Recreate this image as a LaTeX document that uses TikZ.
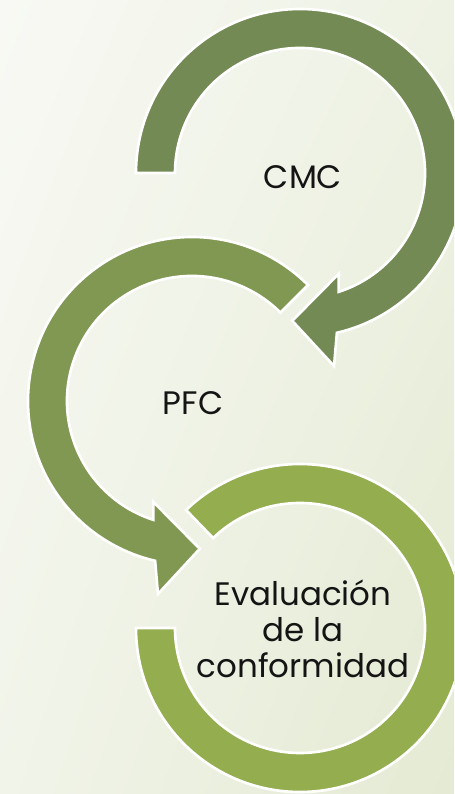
\documentclass[tikz,border=0pt]{standalone}
\usepackage{fontspec}
\setmainfont{Poppins}
\usepackage{tikz}
\usetikzlibrary{calc,positioning,shadings}
\usepackage{xcolor}
\definecolor{fondoA}{RGB}{248,249,244}
\definecolor{fondoB}{RGB}{238,242,228}
\definecolor{fondoC}{RGB}{241,244,233}
\definecolor{fondoD}{RGB}{228,234,211}
\definecolor{verdeUno}{RGB}{116,138,85}
\definecolor{verdeDos}{RGB}{129,152,83}
\definecolor{verdeTres}{RGB}{148,173,79}
\definecolor{texto}{RGB}{20,20,20}
\tikzset{
  flecha/.style={draw=white, line width=1.5pt, line join=miter},
  etiqueta/.style={font=\fontsize{18.5}{20.5}\selectfont, text=texto, align=center, inner sep=0pt}
}

\begin{document}
\begin{tikzpicture}[x=0.02cm, y=0.02cm]
\useasboundingbox (0,0) rectangle (454,794);
\clip (0,0) rectangle (454,794);
\shade[upper left=fondoA, upper right=fondoB, lower left=fondoC, lower right=fondoD]
  (0,0) rectangle (454,794);

\coordinate (c1) at (300,621);
\coordinate (c2) at (192,393);
\coordinate (c3) at (300,166);

%====================================================
% FLECHAS CIRCULARES
%====================================================
\fill[flecha, fill=verdeUno] ($(c1)+(180:164)$) arc[start angle=180, end angle=-77, radius=164]
  -- ($(c1)+(-80:196)$) -- ($(c1)+(-93:148)$) -- ($(c1)+(-69:108)$)
  -- ($(c1)+(-72:125)$) arc[start angle=-72, end angle=180, radius=125] -- cycle;

\fill[flecha, fill=verdeDos] ($(c2)+(45:164)$) arc[start angle=45, end angle=257, radius=164]
  -- ($(c2)+(260:196)$) -- ($(c2)+(273:148)$) -- ($(c2)+(249:108)$)
  -- ($(c2)+(252:125)$) arc[start angle=252, end angle=45, radius=125] -- cycle;

\fill[flecha, fill=verdeTres] ($(c3)+(180:164)$) arc[start angle=180, end angle=494, radius=164]
  -- ($(c3)+(134:125)$) arc[start angle=494, end angle=180, radius=125] -- cycle;

\node[etiqueta] (cmc) at (303,617) {CMC};
\node[etiqueta] (pfc) at (193,391) {PFC};
\node[etiqueta] (evaluacion) at (303,165) {Evaluación\\de la\\conformidad};
\end{tikzpicture}
\end{document}
